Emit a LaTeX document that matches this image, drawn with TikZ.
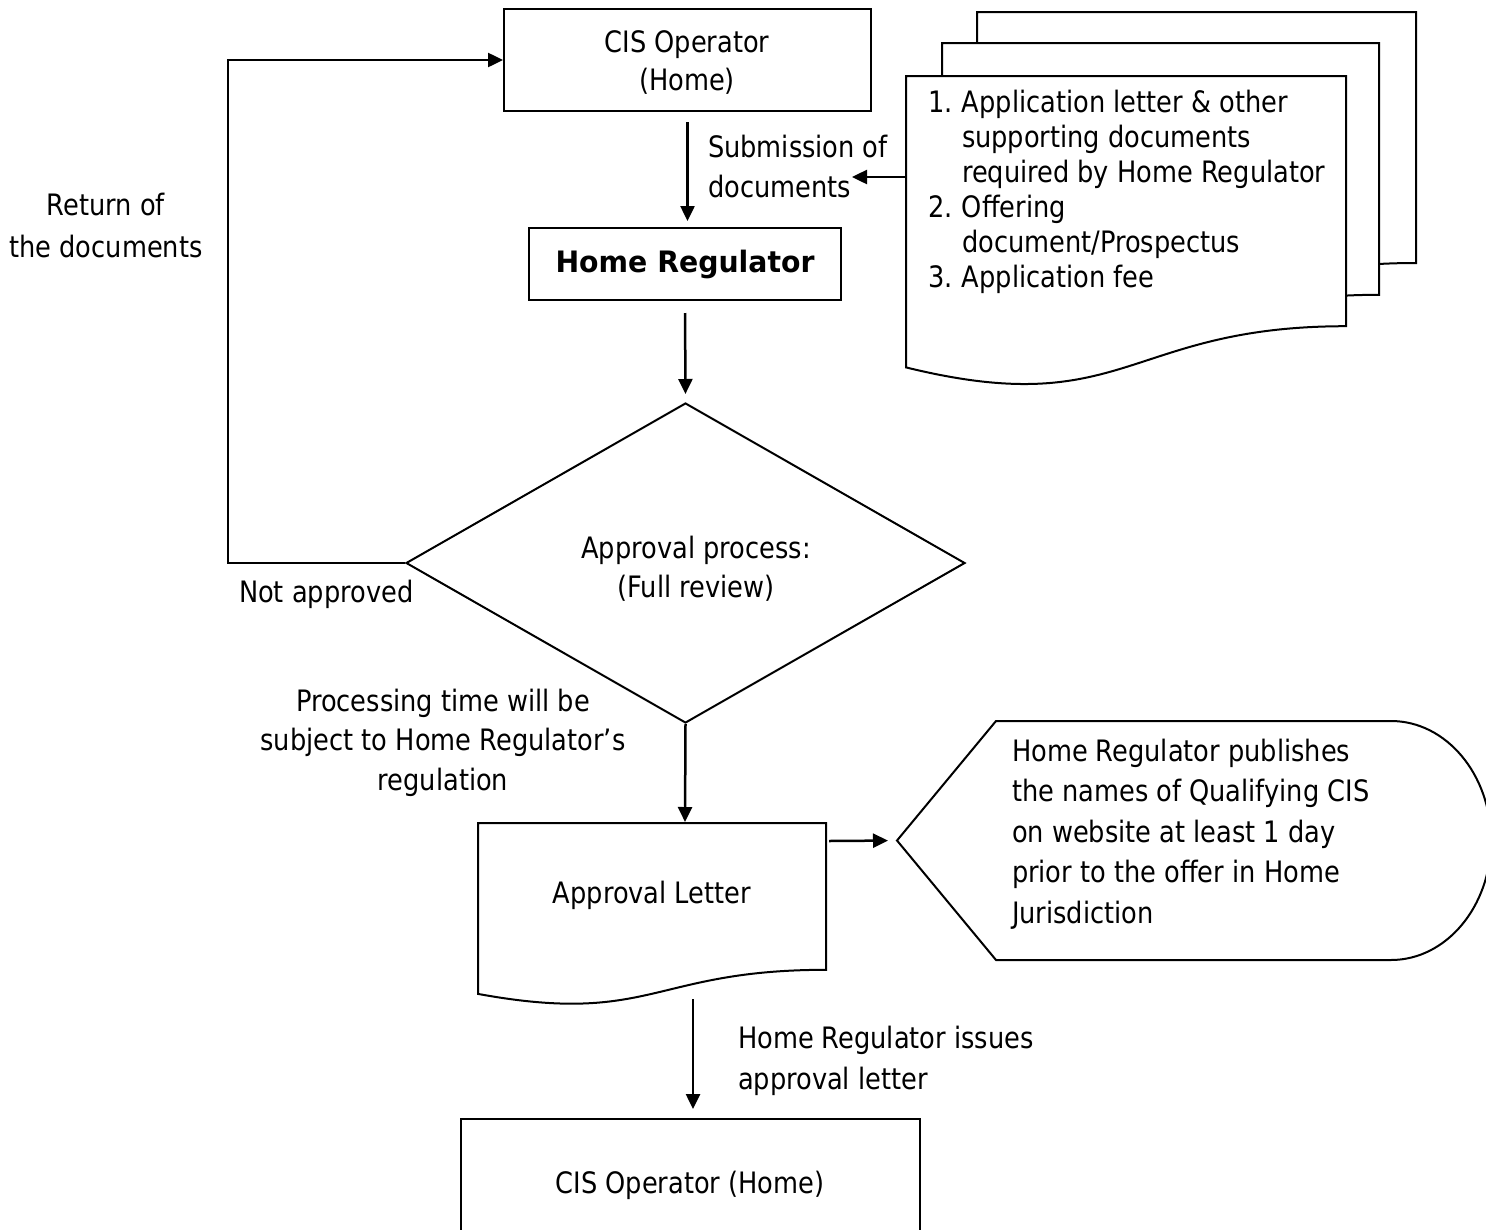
\documentclass[tikz,border=0pt]{standalone}
\usepackage{fontspec}
\setmainfont{DejaVu Sans}[FakeStretch=0.87]
\newfontfamily\hrfont{DejaVu Sans}[FakeStretch=0.96]
\usetikzlibrary{arrows.meta,shapes.geometric,calc}
\newcommand{\mlines}[2]{\begin{tabular}[t]{@{}#1@{}}#2\end{tabular}}
\begin{document}
\begin{tikzpicture}[x=1pt,y=-1pt,line width=2pt,
  txt/.style={inner sep=0pt,font=\fontsize{29.5}{40}\selectfont},
  box/.style={draw,line width=2pt,inner sep=0pt},
  shp/.style={draw,fill=white,line width=2pt,line join=miter},
  arr/.style={-{Triangle[length=15pt,width=14pt]},line width=2.5pt}]
\clip (0,0) rectangle (1486,1229);
\fill[white] (0,0) rectangle (1486,1229);

% ---------- boxes ----------
\node[box,minimum width=367pt,minimum height=102pt] (cis1) at (687.5,60) {};
\node[box,minimum width=312pt,minimum height=72pt] (hr) at (685,264) {};
\node[box,diamond,minimum width=559pt,minimum height=320pt] (dia) at (685.5,563) {};
\node[box,minimum width=459pt,minimum height=131pt] (cis2) at (690.5,1184.5) {};

% ---------- document stack ----------
\draw[shp] (977,12) -- (1416,12) -- (1416,263) .. controls (1196.5,263) and (1196.5,358.7) .. (977,304.3) -- cycle;
\draw[shp] (942,43) -- (1379,43) -- (1379,294.8) .. controls (1160.5,294.8) and (1160.5,390.8) .. (942,336.3) -- cycle;
\draw[shp] (906,76) -- (1346,76) -- (1346,326.2) .. controls (1126,326.2) and (1126,421.5) .. (906,367.4) -- cycle;
\coordinate (docin) at (906,177);

% ---------- approval letter ----------
\draw[shp] (478,823) -- (826,823) -- (826,969.8) .. controls (652,969.8) and (652,1025.7) .. (478,993.9) -- cycle;
\coordinate (altop) at (685,823);
\coordinate (alright) at (829,841);
\coordinate (albot) at (693,999);

% ---------- display callout ----------
\draw[shp] (897,840.5) -- (996,721) -- (1391,721)
  .. controls (1446.2,721) and (1491,774.5) .. (1491,840.5)
  .. controls (1491,906.5) and (1446.2,960) .. (1391,960)
  -- (996,960) -- cycle;
\coordinate (cpt) at (897,840.5);

% ---------- texts ----------
\node[txt,anchor=base,font=\fontsize{29.5}{38}\selectfont] (tcis1) at (687,52) {\mlines{c}{CIS Operator\\(Home)}};
\node[txt,anchor=base] (thr) at (685,272) {\hrfont\bfseries Home Regulator};
\node[txt,anchor=base west] (tsub) at (707,157) {\mlines{l}{Submission of\\documents}};
\coordinate (subtip) at (852,177);
\node[txt,anchor=base west,font=\fontsize{29.5}{35}\selectfont] (tdoc) at (927,112) {\mlines{l}{%
\makebox[34pt][l]{1.}Application letter \& other\\
\hspace*{34pt}supporting documents\\
\hspace*{34pt}required by Home Regulator\\
\makebox[34pt][l]{2.}Offering\\
\hspace*{34pt}document/Prospectus\\
\makebox[34pt][l]{3.}Application fee}};
\node[txt,anchor=base,font=\fontsize{29.5}{42}\selectfont] (tret) at (106,215) {\mlines{c}{Return of\\the documents}};
\node[txt,anchor=base west] (tnot) at (238,602) {Not approved};
\node[txt,anchor=base,font=\fontsize{29.5}{39}\selectfont] (tdia) at (696,558) {\mlines{c}{Approval process:\\(Full review)}};
\node[txt,anchor=base,font=\fontsize{29.5}{39.5}\selectfont] (tproc) at (443,711) {\mlines{c}{Processing time will be\\subject to Home Regulator’s\\regulation}};
\node[txt,anchor=base] (tal) at (652,903) {Approval Letter};
\node[txt,anchor=base west,font=\fontsize{29.5}{40.5}\selectfont] (tpub) at (1011,761) {\mlines{l}{Home Regulator publishes\\the names of Qualifying CIS\\on website at least 1 day\\prior to the offer in Home\\Jurisdiction}};
\node[txt,anchor=base west,font=\fontsize{29.5}{41}\selectfont] (tiss) at (737,1048) {\mlines{l}{Home Regulator issues\\approval letter}};
\node[txt,anchor=base] (tcis2) at (690,1193) {CIS Operator (Home)};

% ---------- connectors ----------
\coordinate (retx) at (228,60);
\draw[arr,shorten <=10pt,shorten >=6pt] (cis1.south) -- (cis1.south |- hr.north);
\draw[arr] (docin) -- (subtip);
\draw[arr,shorten <=12pt,shorten >=8pt] (hr.south) -- (dia.north);
\draw[arr] (dia.west) -- (dia.west -| retx) -- (retx) -- (cis1.west);
\draw[arr,shorten >=1pt] (dia.south) -- (altop);
\draw[arr,shorten >=9pt] (alright) -- (cpt);
\draw[arr,shorten >=9pt] (albot) -- (albot |- cis2.north);
\end{tikzpicture}
\end{document}
